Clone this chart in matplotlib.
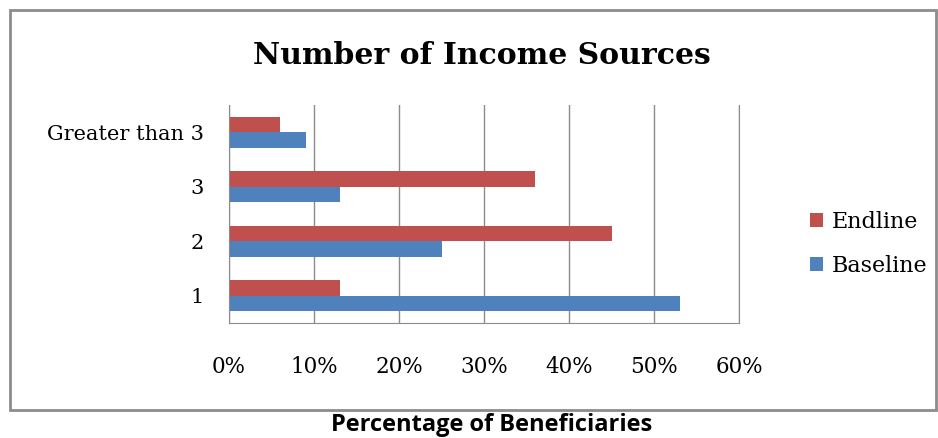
import numpy as np
import matplotlib
matplotlib.use('Agg')
import matplotlib.pyplot as plt
from matplotlib.patches import Rectangle

categories = ['1', '2', '3', 'Greater than 3']
baseline = [53, 25, 13, 9]
endline = [13, 45, 36, 6]
xticks = [0, 10, 20, 30, 40, 50, 60]

blue = '#4F81BD'
red = '#C0504D'
serif = 'DejaVu Serif'

fig = plt.figure(figsize=(9.38, 4.38), dpi=100)
fig.patches.append(Rectangle((10/938, 1-410/438), 926/938, 400/438, transform=fig.transFigure,
                             fill=False, edgecolor='#8c8c8c', lw=2))

ax = fig.add_axes([229/938, 1-323/438, 510/938, 218/438])
y = np.arange(len(categories))
h = 0.28
ax.barh(y - h/2, baseline, height=h, color=blue, label='Baseline')
ax.barh(y + h/2, endline, height=h, color=red, label='Endline')

ax.set_xlim(0, 60)
ax.set_ylim(-0.5, len(categories) - 0.5)
ax.set_xticks(xticks)
ax.set_xticklabels(['%d%%' % v for v in xticks], fontfamily=serif, fontsize=15.5)
ax.set_yticks(y)
ax.set_yticklabels(categories, fontfamily=serif, fontsize=15)
ax.tick_params(axis='x', length=0, pad=24)
ax.tick_params(axis='y', length=0, pad=18)
ax.grid(axis='x', color='#8c8c8c', lw=1)
ax.set_axisbelow(True)
for s in ['top']:
    ax.spines[s].set_visible(False)
for s in ['left', 'bottom', 'right']:
    ax.spines[s].set_color('#8c8c8c')

handles, labels = ax.get_legend_handles_labels()
fig.legend(handles[::-1], labels[::-1], loc='center left', bbox_to_anchor=(790/938, 1-244/438),
           frameon=False, prop={'family': serif, 'size': 16}, handlelength=0.6, handleheight=0.6,
           handletextpad=0.4, labelspacing=1.0)

fig.text(482/938, 1-55/438, 'Number of Income Sources', ha='center', va='center',
         fontfamily=serif, fontweight='bold', fontsize=21.5)
fig.text(492/938, 1-425/438, 'Percentage of Beneficiaries', ha='center', va='center',
         fontfamily='Open Sans', fontweight='bold', fontsize=17)

fig.savefig('out.png', dpi=100)
